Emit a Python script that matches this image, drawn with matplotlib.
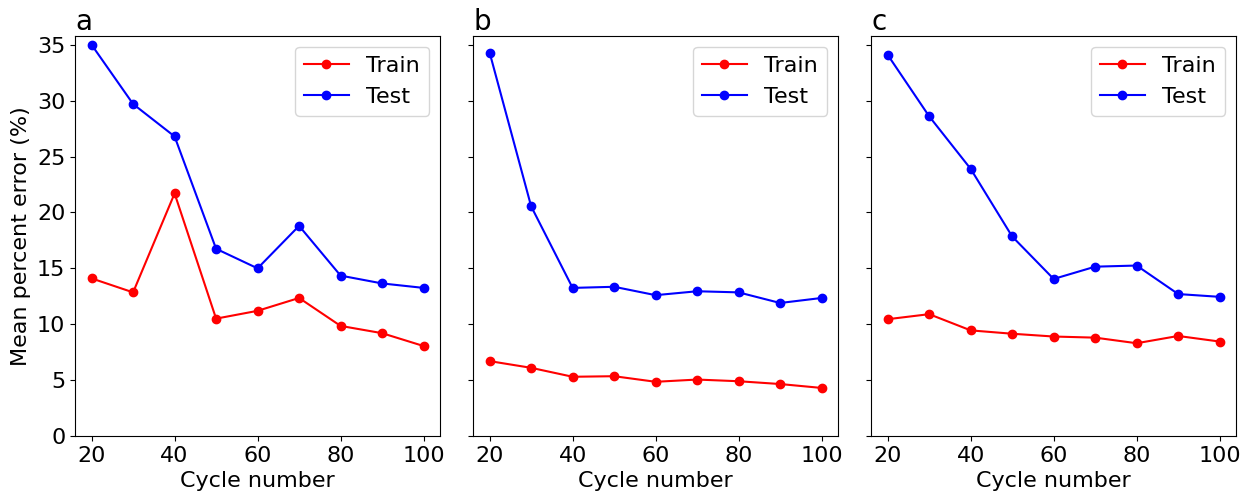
import numpy as np
import matplotlib
matplotlib.use("Agg")
import matplotlib.pyplot as plt

cycles = [20, 30, 40, 50, 60, 70, 80, 90, 100]

train_a = [14.1, 12.85, 21.7, 10.5, 11.2, 12.35, 9.85, 9.2, 8.05]
test_a = [35.0, 29.7, 26.8, 16.75, 15.0, 18.8, 14.35, 13.65, 13.25]

train_b = [6.7, 6.1, 5.3, 5.35, 4.85, 5.05, 4.9, 4.65, 4.3]
test_b = [34.3, 20.55, 13.25, 13.35, 12.6, 12.95, 12.85, 11.9, 12.35]

train_c = [10.45, 10.9, 9.45, 9.15, 8.9, 8.8, 8.3, 8.95, 8.45]
test_c = [34.1, 28.6, 23.9, 17.85, 14.05, 15.15, 15.25, 12.7, 12.45]

panels = [("a", train_a, test_a), ("b", train_b, test_b), ("c", train_c, test_c)]

plt.rcParams["font.size"] = 16

fig, axes = plt.subplots(1, 3, figsize=(12.5, 4.91), dpi=100, sharey=True)
fig.subplots_adjust(left=0.06, right=0.989, bottom=0.112, top=0.927, wspace=0.09)

for ax, (label, train, test) in zip(axes, panels):
    ax.plot(cycles, train, "o-", color="red", label="Train", markersize=6)
    ax.plot(cycles, test, "o-", color="blue", label="Test", markersize=6)
    ax.set_ylim(0, 35.8)
    ax.set_xticks([20, 40, 60, 80, 100])
    ax.set_yticks(range(0, 36, 5))
    ax.set_xlabel("Cycle number")
    ax.set_title(label, loc="left", fontsize=20, pad=4)
    ax.legend(loc="upper right", fontsize=16)

axes[0].set_ylabel("Mean percent error (%)")

fig.savefig("out.png")
